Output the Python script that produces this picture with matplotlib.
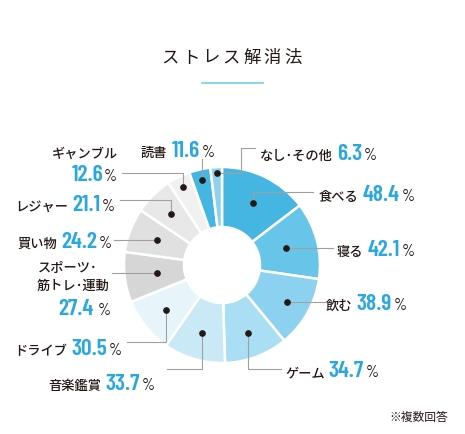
import matplotlib
matplotlib.use("Agg")
import matplotlib.pyplot as plt
from matplotlib import font_manager
import numpy as np

plt.rcParams['font.family'] = ['Noto Sans CJK JP', 'DejaVu Sans']

# data (multiple answers, %)
items = ["食べる", "寝る", "飲む", "ゲーム", "音楽鑑賞", "ドライブ",
         "スポーツ･筋トレ･運動", "買い物", "レジャー", "ギャンブル", "読書", "なし･その他"]
values = [48.4, 42.1, 38.9, 34.7, 33.7, 30.5, 27.4, 24.2, 21.1, 12.6, 11.6, 6.3]
title = "ストレス解消法"
note = "※複数回答"

colors = ["#45b6e2", "#67c5ea", "#8cd2f0", "#aadef4", "#c9e9f7", "#e7f5fb",
          "#d6d6d6", "#e0e0e0", "#e8e8e8", "#f1f1f1", "#45b6e2", "#8cd2f0"]

W, H = 465, 435
cx, cy = 222, 266          # donut centre (pixel coords, y down)
r_out, r_in = 98, 38

# where the black dot sits in each slice (radius from centre)
dot_r = [69, 66, 75, 73, 71, 72, 66, 70, 72, 87, 87, 92]

# leader lines: "h" = go horizontally to x, "v" = go vertically to y
routes = [
    [("v", 193), ("h", 313)],
    [("h", 333)],
    [("h", 325)],
    [("v", 370), ("h", 281)],
    [("v", 370), ("h", 167)],
    [("v", 342.5), ("h", 127)],
    [("h", 112)],
    [("h", 114)],
    [("v", 201), ("h", 120)],
    [("v", 174), ("h", 122)],
    [("v", 160)],
    [("h", 240.7), ("v", 149.3), ("h", 255)],
]

# label anchor: x, baseline (None = follow the leader line), alignment
label_pos = [
    (319, 201, "left"),
    (337, None, "left"),
    (326, None, "left"),
    (285, 377, "left"),
    (155, 390, "right"),
    (122, 355, "right"),
    None,
    (112, None, "right"),
    (115, 211, "right"),
    None,
    (141, 157, "left"),
    (260, 160, "left"),
]

# a condensed face for the big numbers, if one is installed
have = {f.name for f in font_manager.fontManager.ttflist}
num_font = next((f for f in ["Barlow Condensed", "Roboto Condensed", "Archivo Narrow",
                             "PT Sans Narrow", "Oswald"] if f in have), "DejaVu Sans")

TXT = "#231815"
NAME = dict(fontsize=9.5, color=TXT, fontweight="medium")
NUM = dict(family=[num_font, "DejaVu Sans"], fontweight="semibold",
           fontsize=17, color="#29a8e0")
PCT = dict(family=[num_font, "DejaVu Sans"], fontsize=12, color=TXT)

fig = plt.figure(figsize=(W / 100, H / 100), dpi=100)
ax = fig.add_axes([0, 0, 1, 1])

# y axis is flipped below, so counterclock=True draws clockwise on screen
ax.pie(values, colors=colors, startangle=-90, counterclock=True,
       center=(cx, cy), radius=r_out,
       wedgeprops=dict(width=r_out - r_in, edgecolor="white", linewidth=1.8))
ax.set_xlim(0, W)
ax.set_ylim(H, 0)
ax.set_aspect("equal")
ax.axis("off")

total = sum(values)
mid = (np.cumsum(values) - np.array(values) / 2) / total * 360 - 90
dots_x = cx + np.array(dot_r) * np.cos(np.deg2rad(mid))
dots_y = cy + np.array(dot_r) * np.sin(np.deg2rad(mid))

ends = []
for i, route in enumerate(routes):
    px, py = dots_x[i], dots_y[i]
    xs, ys = [px], [py]
    for d, v in route:
        if d == "h":
            px = v
        else:
            py = v
        xs.append(px)
        ys.append(py)
    ends.append((px, py))
    ax.plot(xs, ys, color="#a0a0a0", lw=0.8, zorder=3)
ax.plot(dots_x, dots_y, "o", color=TXT, ms=3.8, zorder=4)

fig.canvas.draw()
rend = fig.canvas.get_renderer()


def put(x, base, parts, ha="left"):
    arts = [ax.text(0, base, s, va="baseline", ha="left", **kw) for s, kw, g in parts]
    ws = [a.get_window_extent(rend).width for a in arts]
    tot = sum(ws) + sum(g for _, _, g in parts[:-1])
    x0 = x if ha == "left" else x - tot
    for a, w, (_, _, g) in zip(arts, ws, parts):
        a.set_x(x0)
        x0 += w + g


for i, name in enumerate(items):
    num = f"{values[i]:.1f}"
    if label_pos[i] is None:
        continue
    x, base, ha = label_pos[i]
    if base is None:
        base = ends[i][1] + 7
    put(x, base, [(name, NAME, 4), (num, NUM, 2), ("%", PCT, 0)], ha)

# two labels that wrap onto several lines
sp = items[6].split("･", 1)
put(38, 272, [(sp[0] + "･", NAME, 0)])
put(37, 290, [(sp[1], NAME, 0)])
put(58, 315, [(f"{values[6]:.1f}", NUM, 5), ("%", PCT, 0)])
put(118, 157.5, [(items[9], NAME, 0)], "right")
put(117, 181.5, [(f"{values[9]:.1f}", NUM, 1), ("%", PCT, 0)], "right")

# spaced title with a short blue rule under it
for k, ch in enumerate(title):
    ax.text(170 + k * 20.45, 58, ch, fontsize=12.5, color=TXT, ha="center", va="center")
ax.plot([202, 263], [83.5, 83.5], color="#7fd0f1", lw=1.3)

ax.text(448, 421, note, fontsize=8.5, color=TXT, ha="right", va="baseline")

fig.savefig("out.png", dpi=100, facecolor="white")
